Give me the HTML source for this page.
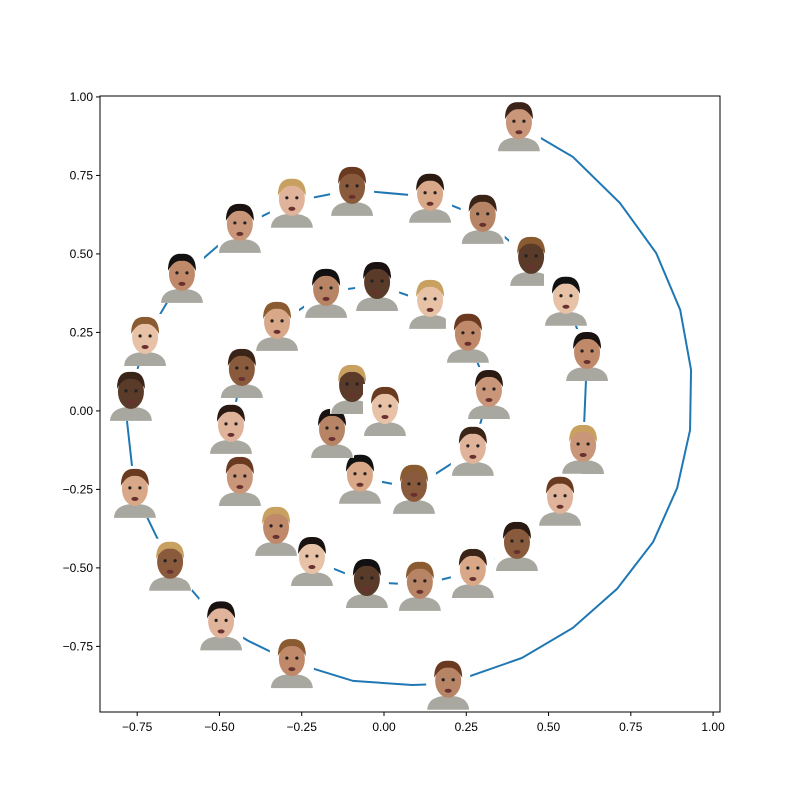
<!DOCTYPE html>
<html><head><meta charset="utf-8">
<style>
html,body{margin:0;padding:0;background:#fff;}
svg{display:block;font-family:"Liberation Sans","DejaVu Sans",sans-serif;}
</style></head>
<body>
<svg id="chart" width="800" height="800" viewBox="0 0 800 800">
<rect x="0" y="0" width="800" height="800" fill="#fff"/>
<g id="plot"></g>
<rect x="100" y="96" width="620" height="616" fill="none" stroke="#000" stroke-width="1"/>
<g id="axes"></g>
</svg>
<script>
const xs = [0.41,0.574,0.717,0.827,0.90,0.933,0.93,0.891,0.818,0.708,0.574,0.419,0.195,0.085,-0.094,-0.28,-0.413,-0.495,-0.65,-0.757,-0.781,-0.769,-0.726,-0.614,-0.438,-0.28,-0.097,0.14,0.30,0.447,0.553,0.617,0.605,0.535,0.404,0.27,0.109,-0.052,-0.219,-0.328,-0.438,-0.465,-0.432,-0.325,-0.176,-0.021,0.14,0.255,0.319,0.27,0.091,-0.073,-0.158,-0.097,0.003];
const ys = [0.91,0.809,0.662,0.503,0.322,0.131,-0.061,-0.245,-0.417,-0.567,-0.691,-0.787,-0.869,-0.873,-0.86,-0.8,-0.732,-0.68,-0.49,-0.258,-0.032,0.051,0.226,0.427,0.586,0.666,0.704,0.682,0.615,0.481,0.354,0.178,-0.118,-0.283,-0.427,-0.513,-0.554,-0.545,-0.475,-0.379,-0.22,-0.054,0.124,0.274,0.379,0.401,0.344,0.236,0.057,-0.124,-0.245,-0.213,-0.067,0.073,0.003];
const hasFace = [1,0,0,0,0,0,0,0,0,0,0,0,1,0,0,1,0,1,1,1,0,1,1,1,1,1,1,1,1,1,1,1,1,1,1,1,1,1,1,1,1,1,1,1,1,1,1,1,1,1,1,1,1,1,1];
const xTicks = [-0.75,-0.5,-0.25,0,0.25,0.5,0.75,1.0];
const yTicks = [-0.75,-0.5,-0.25,0,0.25,0.5,0.75,1.0];

const X0=100,X1=720,Y0=96,Y1=712;
const xmin=-0.863,xmax=1.021,ymin=-0.959,ymax=1.003;
function sx(v){return X0+(v-xmin)/(xmax-xmin)*(X1-X0);}
function sy(v){return Y1-(v-ymin)/(ymax-ymin)*(Y1-Y0);}
const NS="http://www.w3.org/2000/svg";
function mk(tag,attrs,parent){const e=document.createElementNS(NS,tag);for(const k in attrs)e.setAttribute(k,attrs[k]);parent.appendChild(e);return e;}

const plot=document.getElementById('plot');
const line=mk('polyline',{points:xs.map((x,i)=>sx(x)+','+sy(ys[i])).join(' '),fill:'none',stroke:'#1f77b4','stroke-width':2},plot);



const skins=['#c9967a','#e0b49a','#8a5a3c','#d8a888','#b88466','#5a3a28','#e8c2a6','#c08a6a'];
const hairs=['#3a2418','#6a3a20','#1a1210','#8a5a30','#2a1a12','#c8a060','#111'];
xs.forEach((x,i)=>{
  if(!hasFace[i])return;
  const cx=sx(x),cy=sy(ys[i]);
  const g=mk('g',{},plot);
  
  
  mk('rect',{x:cx-22,y:cy-26,width:44,height:52,fill:'#fff'},g);
  mk('path',{d:`M${cx-21} ${cy+26} Q${cx-20} ${cy+12} ${cx} ${cy+12} Q${cx+20} ${cy+12} ${cx+21} ${cy+26} Z`,fill:'#a8a8a0'},g);
  const sk=skins[i%skins.length],hr=hairs[(i*3)%hairs.length];
  mk('ellipse',{cx:cx,cy:cy-3,rx:13,ry:17,fill:sk},g);
  mk('path',{d:`M${cx-14} ${cy-6} Q${cx-14} ${cy-24} ${cx} ${cy-23} Q${cx+14} ${cy-24} ${cx+14} ${cy-6} Q${cx+8} ${cy-17} ${cx} ${cy-16} Q${cx-8} ${cy-17} ${cx-14} ${cy-6} Z`,fill:hr},g);
  mk('circle',{cx:cx-5,cy:cy-4,r:1.6,fill:'#222'},g);
  mk('circle',{cx:cx+5,cy:cy-4,r:1.6,fill:'#222'},g);
  mk('ellipse',{cx:cx,cy:cy+7,rx:3.5,ry:2,fill:'#6a3030'},g);
});

const axes=document.getElementById('axes');
xTicks.forEach(t=>{
  const px=sx(t);
  mk('line',{x1:px,y1:Y1,x2:px,y2:Y1+4,stroke:'#000'},axes);
  const tx=mk('text',{x:px,y:Y1+19,'font-size':12,'text-anchor':'middle',fill:'#000'},axes);
  tx.textContent=t.toFixed(2).replace('-','−');
  
  
});
yTicks.forEach(t=>{
  const py=sy(t);
  mk('line',{x1:X0-4,y1:py,x2:X0,y2:py,stroke:'#000'},axes);
  const tx=mk('text',{x:X0-7,y:py+4,'font-size':12,'text-anchor':'end',fill:'#000'},axes);
  tx.textContent=t.toFixed(2).replace('-','−');
  
  
});
</script>
</body></html>
